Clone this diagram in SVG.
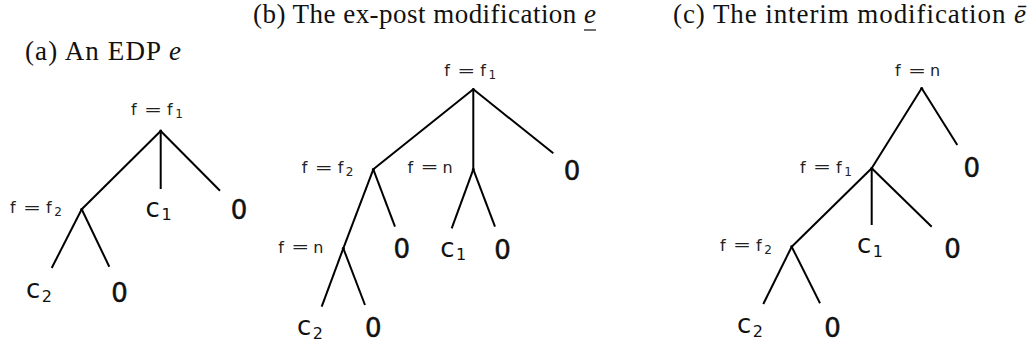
<svg xmlns="http://www.w3.org/2000/svg" xmlns:xlink="http://www.w3.org/1999/xlink" width="1034" height="346" viewBox="0 0 1034 346">
  <style>
    .title { font-family: "Liberation Serif", serif; font-size: 27px; fill: #111; }
    .it { font-style: italic; }
    .lbl { font-family: "DejaVu Sans", sans-serif; font-size: 16px; fill: #222; }
    .lsub { font-size: 12px; }
    .leaf { font-family: "DejaVu Sans", sans-serif; font-size: 26px; fill: #111; }
    .zero { text-anchor: middle; stroke: #111; stroke-width: 0.5; }
    .lfsub { font-size: 16px; }
    .edge { stroke: #000; stroke-width: 2; stroke-linecap: butt; fill: none; }
    .dot { fill: #000; }
  </style>
  <defs>
    <!-- "f =" prefix shared by every decision label -->
    <g id="feq">
      <text class="lbl" x="0" y="0">f</text>
      <text class="lbl" x="13" y="-0.5" textLength="18" lengthAdjust="spacingAndGlyphs">=</text>
    </g>
  </defs>

  <!-- titles -->
  <text class="title" x="25" y="60" textLength="156">(a) An EDP <tspan class="it">e</tspan></text>
  <text class="title" x="253" y="23" textLength="343">(b) The ex-post modification <tspan class="it">e</tspan></text>
  <line x1="584" y1="30" x2="596" y2="30" stroke="#111" stroke-width="1.2"/>
  <text class="title" x="673" y="23" textLength="353">(c) The interim modification <tspan class="it">ē</tspan></text>

  <!-- connectors -->
  <g id="connectors" class="edge">
    <!-- tree a -->
    <line x1="160.7" y1="131" x2="81.7" y2="209.3"/>
    <line x1="160.7" y1="131" x2="160.7" y2="189"/>
    <line x1="160.7" y1="131" x2="220" y2="190.7"/>
    <line x1="81.7" y1="209.3" x2="51.7" y2="268"/>
    <line x1="81.7" y1="209.3" x2="109.3" y2="266.7"/>
    <!-- tree b -->
    <line x1="473.3" y1="89.3" x2="373.3" y2="169.3"/>
    <line x1="473.3" y1="89.3" x2="473.3" y2="169.3"/>
    <line x1="473.3" y1="89.3" x2="553.3" y2="153.3"/>
    <line x1="373.3" y1="169.3" x2="343.3" y2="248.3"/>
    <line x1="373.3" y1="169.3" x2="395" y2="226.7"/>
    <line x1="473.3" y1="169.3" x2="451.7" y2="228.3"/>
    <line x1="473.3" y1="169.3" x2="495" y2="226.7"/>
    <line x1="343.3" y1="248.3" x2="321.7" y2="306.7"/>
    <line x1="343.3" y1="248.3" x2="365" y2="305"/>
    <!-- tree c -->
    <line x1="921.7" y1="88.3" x2="871.7" y2="168.3"/>
    <line x1="921.7" y1="88.3" x2="957.3" y2="145"/>
    <line x1="871.7" y1="168.3" x2="791.7" y2="246.7"/>
    <line x1="871.7" y1="168.3" x2="871.7" y2="225"/>
    <line x1="871.7" y1="168.3" x2="931.7" y2="226.7"/>
    <line x1="791.7" y1="246.7" x2="763.3" y2="304"/>
    <line x1="791.7" y1="246.7" x2="820" y2="303.3"/>
  </g>

  <!-- tree a: decision nodes -->
  <g id="a-root">
    <circle class="dot" cx="160.7" cy="131" r="1.4"/>
    <use xlink:href="#feq" x="131" y="115"/>
    <text class="lbl" x="167" y="115">f<tspan class="lsub" dx="2.5" dy="3">1</tspan></text>
  </g>
  <g id="a-f2">
    <circle class="dot" cx="81.7" cy="209.3" r="1.4"/>
    <use xlink:href="#feq" x="10" y="213.3"/>
    <text class="lbl" x="46" y="213.3">f<tspan class="lsub" dx="2.5" dy="3">2</tspan></text>
  </g>
  <!-- tree a: outcomes -->
  <g id="a-c1"><text class="leaf" x="145.6" y="216.7">c<tspan class="lfsub" dx="1.5" dy="3.5">1</tspan></text></g>
  <g id="a-0a"><text class="leaf zero" x="238.9" y="219.3">0</text></g>
  <g id="a-c2"><text class="leaf" x="25.9" y="298">c<tspan class="lfsub" dx="1.5" dy="3.5">2</tspan></text></g>
  <g id="a-0b"><text class="leaf zero" x="119.5" y="301.5">0</text></g>

  <!-- tree b: decision nodes -->
  <g id="b-root">
    <circle class="dot" cx="473.3" cy="89.3" r="1.4"/>
    <use xlink:href="#feq" x="444.3" y="76"/>
    <text class="lbl" x="480.3" y="76">f<tspan class="lsub" dx="2.5" dy="3">1</tspan></text>
  </g>
  <g id="b-f2">
    <circle class="dot" cx="373.3" cy="169.3" r="1.4"/>
    <use xlink:href="#feq" x="301.7" y="173"/>
    <text class="lbl" x="337.7" y="173">f<tspan class="lsub" dx="2.5" dy="3">2</tspan></text>
  </g>
  <g id="b-n1">
    <circle class="dot" cx="473.3" cy="169.3" r="1.4"/>
    <use xlink:href="#feq" x="407.5" y="172.5"/>
    <text class="lbl" x="442.5" y="172.5">n</text>
  </g>
  <g id="b-n2">
    <circle class="dot" cx="343.3" cy="248.3" r="1.4"/>
    <use xlink:href="#feq" x="278.3" y="252.5"/>
    <text class="lbl" x="313.3" y="252.5">n</text>
  </g>
  <!-- tree b: outcomes -->
  <g id="b-0a"><text class="leaf zero" x="572" y="180">0</text></g>
  <g id="b-0b"><text class="leaf zero" x="401.7" y="258">0</text></g>
  <g id="b-c1"><text class="leaf" x="440.3" y="256.7">c<tspan class="lfsub" dx="1.5" dy="3.5">1</tspan></text></g>
  <g id="b-0c"><text class="leaf zero" x="502.5" y="259">0</text></g>
  <g id="b-c2"><text class="leaf" x="296.9" y="335">c<tspan class="lfsub" dx="1.5" dy="3.5">2</tspan></text></g>
  <g id="b-0d"><text class="leaf zero" x="373.3" y="337">0</text></g>

  <!-- tree c: decision nodes -->
  <g id="c-root">
    <circle class="dot" cx="921.7" cy="88.3" r="1.4"/>
    <use xlink:href="#feq" x="895" y="76"/>
    <text class="lbl" x="930" y="76">n</text>
  </g>
  <g id="c-f1">
    <circle class="dot" cx="871.7" cy="168.3" r="1.4"/>
    <use xlink:href="#feq" x="800" y="172.5"/>
    <text class="lbl" x="836" y="172.5">f<tspan class="lsub" dx="2.5" dy="3">1</tspan></text>
  </g>
  <g id="c-f2">
    <circle class="dot" cx="791.7" cy="246.7" r="1.4"/>
    <use xlink:href="#feq" x="720" y="250.5"/>
    <text class="lbl" x="756" y="250.5">f<tspan class="lsub" dx="2.5" dy="3">2</tspan></text>
  </g>
  <!-- tree c: outcomes -->
  <g id="c-0a"><text class="leaf zero" x="971.7" y="176.5">0</text></g>
  <g id="c-c1"><text class="leaf" x="856.9" y="253.3">c<tspan class="lfsub" dx="1.5" dy="3.5">1</tspan></text></g>
  <g id="c-0b"><text class="leaf zero" x="952.5" y="258">0</text></g>
  <g id="c-c2"><text class="leaf" x="736.9" y="333.3">c<tspan class="lfsub" dx="1.5" dy="3.5">2</tspan></text></g>
  <g id="c-0c"><text class="leaf zero" x="832.5" y="336.5">0</text></g>
</svg>
